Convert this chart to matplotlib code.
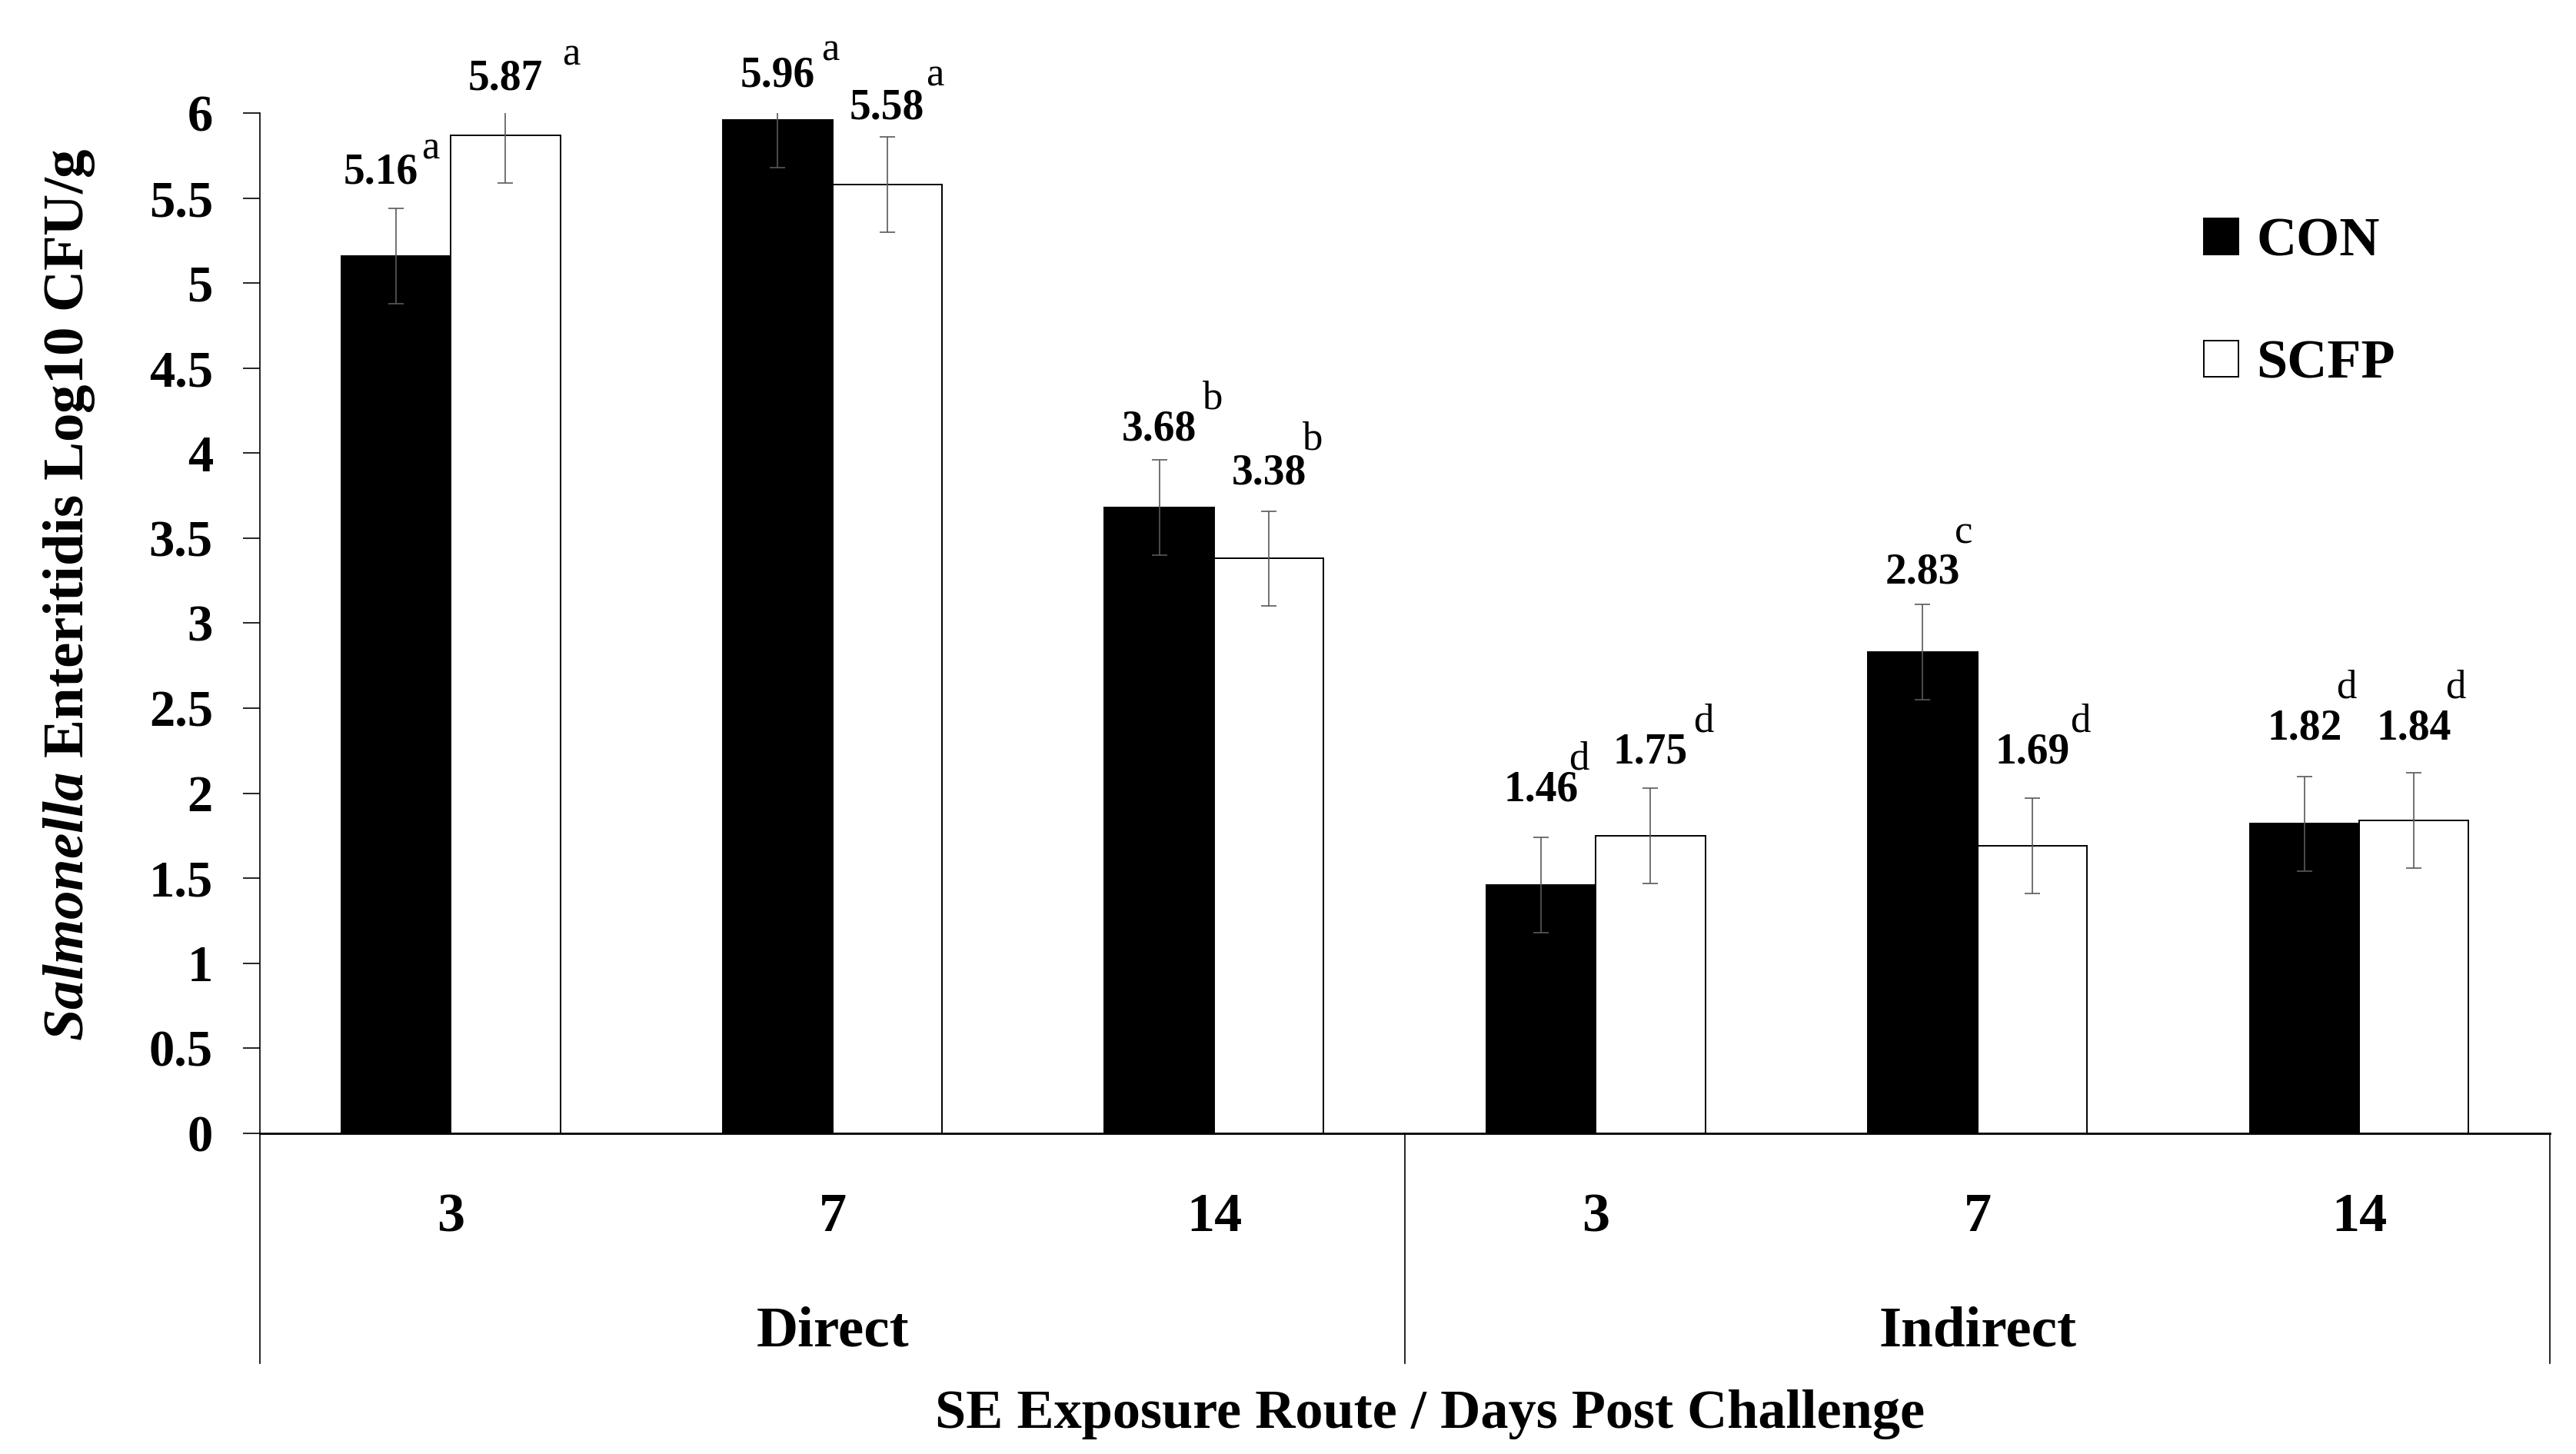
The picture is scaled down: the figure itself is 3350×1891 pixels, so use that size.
import numpy as np
import matplotlib
matplotlib.use("Agg")
import matplotlib.pyplot as plt
from matplotlib.ticker import FuncFormatter

# --------------------------
# Data
# --------------------------
days = ["3", "7", "14", "3", "7", "14"]
routes = ["Direct", "Indirect"]
con = [5.16, 5.96, 3.68, 1.46, 2.83, 1.82]
scfp = [5.87, 5.58, 3.38, 1.75, 1.69, 1.84]
con_err = [0.28, 0.28, 0.28, 0.28, 0.28, 0.28]
scfp_err = [0.28, 0.28, 0.28, 0.28, 0.28, 0.28]
con_letters = ["a", "a", "b", "d", "c", "d"]
scfp_letters = ["a", "a", "b", "d", "d", "d"]

# label placement (where the value labels were dragged to in the original)
con_lab_y = [5.65, 6.22, 4.14, 2.02, 3.30, 2.38]
scfp_lab_y = [6.20, 6.03, 3.88, 2.24, 2.24, 2.38]
con_lab_dx = [-0.039, 0.0, 0.0, 0.0, 0.0, 0.0]
scfp_lab_dx = [0.0, 0.0, 0.0, 0.0, 0.0, 0.0]
con_sup_y = [5.79, 6.37, 4.32, 2.20, 3.53, 2.62]
scfp_sup_y = [6.34, 6.22, 4.08, 2.42, 2.42, 2.62]
con_sup_dx = [0.09, 0.138, 0.138, 0.10, 0.108, 0.11]
scfp_sup_dx = [0.172, 0.125, 0.112, 0.138, 0.125, 0.108]

# --------------------------
# Style
# --------------------------
plt.rcParams['font.family'] = ['Liberation Serif', 'DejaVu Serif']
plt.rcParams['font.weight'] = 'bold'
plt.rcParams['mathtext.fontset'] = 'custom'
plt.rcParams['mathtext.it'] = 'Liberation Serif:italic:bold'
plt.rcParams['mathtext.rm'] = 'Liberation Serif:bold'

fig = plt.figure(figsize=(16.75, 9.455), dpi=200)
ax = fig.add_axes([0.1009, 0.2205, 0.889, 0.7018])

x = np.arange(len(days))
w = 0.287
err_kw = dict(ecolor='#595959', elinewidth=0.6, capsize=3.5, capthick=0.6)
b1 = ax.bar(x - w / 2, con, w, color='black', edgecolor='black', linewidth=0.7,
            yerr=con_err, error_kw=err_kw, label='CON')
b2 = ax.bar(x + w / 2, scfp, w, color='white', edgecolor='black', linewidth=0.7,
            yerr=scfp_err, error_kw=err_kw, label='SCFP')

ax.set_xlim(-0.5, len(days) - 0.5)
ax.set_ylim(0, 6)
ax.set_yticks(np.arange(0, 6.01, 0.5))
ax.yaxis.set_major_formatter(FuncFormatter(lambda v, p: f"{v:g}"))
ax.tick_params(axis='y', direction='out', length=8, width=0.6, pad=14, labelsize=24)
ax.set_xticks([])
for s in ['top', 'right']:
    ax.spines[s].set_visible(False)
ax.spines['left'].set_linewidth(0.6)
ax.spines['bottom'].set_linewidth(1.0)

# value labels + significance letters
for i in range(len(days)):
    ax.text(x[i] - w / 2 + con_lab_dx[i], con_lab_y[i], f"{con[i]:.2f}",
            ha='center', va='center', fontsize=20, fontweight='bold')
    ax.text(x[i] - w / 2 + con_sup_dx[i], con_sup_y[i], con_letters[i],
            ha='center', va='center', fontsize=19, fontweight='normal')
    ax.text(x[i] + w / 2 + scfp_lab_dx[i], scfp_lab_y[i], f"{scfp[i]:.2f}",
            ha='center', va='center', fontsize=20, fontweight='bold')
    ax.text(x[i] + w / 2 + scfp_sup_dx[i], scfp_sup_y[i], scfp_letters[i],
            ha='center', va='center', fontsize=19, fontweight='normal')

# two-level category axis
tr = ax.get_xaxis_transform()
for i, d in enumerate(days):
    ax.text(x[i], -0.0825, d, transform=tr, ha='center', va='center', fontsize=26)
n_per = len(days) // len(routes)
for j, r in enumerate(routes):
    xc = j * n_per + (n_per - 1) / 2
    ax.text(xc, -0.195, r, transform=tr, ha='center', va='center', fontsize=27)
for xs in [-0.5 + j * n_per for j in range(len(routes) + 1)]:
    ax.plot([xs, xs], [0, -0.2253], transform=tr, color='black', lw=0.6, clip_on=False)

fig.text(0.555, 0.027, "SE Exposure Route / Days Post Challenge",
         ha='center', va='center', fontsize=26)
fig.text(0.027, 0.591, r"$Salmonella$ Enteritidis Log10 CFU/g",
         ha='center', va='center', rotation=90, fontsize=27)

ax.legend(handles=[b1, b2], loc='upper left', bbox_to_anchor=(0.849, 0.8975),
          frameon=False, fontsize=26, handlelength=0.61, handleheight=0.61,
          handletextpad=0.33, labelspacing=1.3, borderpad=0, borderaxespad=0)

fig.savefig("out.png", dpi=200, facecolor='white')
